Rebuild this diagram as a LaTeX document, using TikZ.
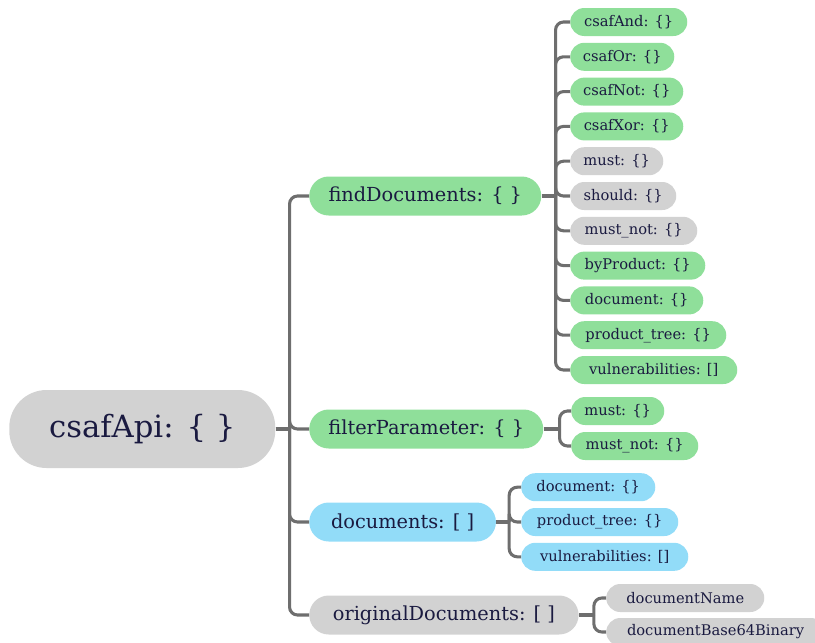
\documentclass[tikz,border=0pt]{standalone}
\usepackage{fontspec}
\setmainfont{DejaVu Serif}
\definecolor{txt}{HTML}{1A1A40}
\definecolor{grn}{HTML}{8FDF9A}
\definecolor{gry}{HTML}{D2D2D2}
\definecolor{blu}{HTML}{92DCF8}
\definecolor{wire}{HTML}{6E6E6E}
\begin{document}
\begin{tikzpicture}[x=0.75pt,y=-0.75pt,
  base/.style={draw=none,text=txt,inner sep=0pt},
  root/.style={base,fill=gry,minimum height=58.5pt,rounded corners=28pt,font=\fontsize{23}{27}\selectfont},
  mid/.style={base,minimum height=29.25pt,rounded corners=14.6pt,font=\fontsize{14.5}{17}\selectfont},
  leaf/.style={base,minimum height=21pt,rounded corners=10.5pt,font=\fontsize{11}{13}\selectfont},
  conn/.style={draw=wire,line width=2.3pt,rounded corners=6pt}]
\useasboundingbox (0,0) rectangle (815,643);
% root
\node[root,minimum width=199.5pt,anchor=west] (api) at (9,429) {csafApi: \{ \}};
% first level
\node[mid,fill=grn,minimum width=174pt,anchor=west] (fd) at (309,196) {findDocuments: \{ \}};
\node[mid,fill=grn,minimum width=175.5pt,anchor=west] (fp) at (309,429) {filterParameter: \{ \}};
\node[mid,fill=blu,minimum width=140pt,anchor=west] (docs) at (309,522) {documents: [ ]};
\node[mid,fill=gry,minimum width=202pt,anchor=west] (orig) at (309,615) {originalDocuments: [ ]};
% findDocuments children
\node[leaf,fill=grn,minimum width=87.75pt,anchor=west] (f1) at (570,22) {csafAnd: \{\}};
\node[leaf,fill=grn,minimum width=78pt,anchor=west] (f2) at (570,56.8) {csafOr: \{\}};
\node[leaf,fill=grn,minimum width=84.75pt,anchor=west] (f3) at (570,91.6) {csafNot: \{\}};
\node[leaf,fill=grn,minimum width=84.75pt,anchor=west] (f4) at (570,126.4) {csafXor: \{\}};
\node[leaf,fill=gry,minimum width=69.75pt,anchor=west] (f5) at (570,161.2) {must: \{\}};
\node[leaf,fill=gry,minimum width=79.5pt,anchor=west] (f6) at (570,196) {should: \{\}};
\node[leaf,fill=gry,minimum width=95.25pt,anchor=west] (f7) at (570,230.8) {must\_not: \{\}};
\node[leaf,fill=grn,minimum width=101.25pt,anchor=west] (f8) at (570,265.6) {byProduct: \{\}};
\node[leaf,fill=grn,minimum width=99.75pt,anchor=west] (f9) at (570,300.4) {document: \{\}};
\node[leaf,fill=grn,minimum width=117pt,anchor=west] (f10) at (570,335.2) {product\_tree: \{\}};
\node[leaf,fill=grn,minimum width=125.25pt,anchor=west] (f11) at (570,370) {vulnerabilities: []};
% filterParameter children
\node[leaf,fill=grn,minimum width=69.75pt,anchor=west] (p1) at (571,411) {must: \{\}};
\node[leaf,fill=grn,minimum width=95.25pt,anchor=west] (p2) at (571,446) {must\_not: \{\}};
% documents children
\node[leaf,fill=blu,minimum width=100.5pt,anchor=west] (d1) at (521,487.2) {document: \{\}};
\node[leaf,fill=blu,minimum width=117.75pt,anchor=west] (d2) at (521,522) {product\_tree: \{\}};
\node[leaf,fill=blu,minimum width=125.25pt,anchor=west] (d3) at (521,556.8) {vulnerabilities: []};
% originalDocuments children
\node[leaf,fill=gry,minimum width=118.5pt,anchor=west] (o1) at (606,598) {documentName};
\node[leaf,fill=gry,minimum width=164pt,anchor=west] (o2) at (606,632) {documentBase64Binary};
% junction points
\path (api.east) ++(14,0) coordinate (apiS);
\path (fd.east) ++(14,0) coordinate (fdS);
\path (fp.east) ++(16,0) coordinate (fpS);
\path (docs.east) ++(13,0) coordinate (docsS);
\path (orig.east) ++(15,0) coordinate (origS);
% connectors
\draw[conn] (api.east) -- (apiS);
\foreach \c in {fd,fp,docs,orig} \draw[conn] (apiS) |- (\c.west);
\draw[conn] (fd.east) -- (fdS);
\foreach \c in {f1,f2,f3,f4,f5,f6,f7,f8,f9,f10,f11} \draw[conn] (fdS) |- (\c.west);
\draw[conn] (fp.east) -- (fpS);
\foreach \c in {p1,p2} \draw[conn] (fpS) |- (\c.west);
\draw[conn] (docs.east) -- (docsS);
\foreach \c in {d1,d2,d3} \draw[conn] (docsS) |- (\c.west);
\draw[conn] (orig.east) -- (origS);
\foreach \c in {o1,o2} \draw[conn] (origS) |- (\c.west);
\end{tikzpicture}
\end{document}
